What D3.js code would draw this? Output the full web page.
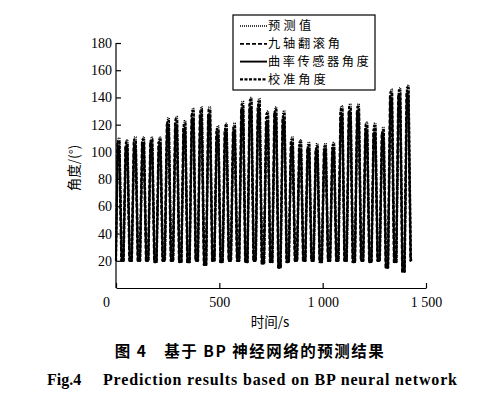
<!DOCTYPE html>
<html>
<head>
<meta charset="utf-8">
<script src="https://cdn.jsdelivr.net/npm/d3@7"></script>
<style>
  body { margin: 0; background: #fff; }
  svg { display: block; }
</style>
</head>
<body>
<svg id="chart" width="491" height="399"></svg>
<script>
// peak time of each cycle (s)
const peakTimes = [12, 51, 91, 131, 171, 211, 251, 291, 331, 371, 411, 451, 491, 531, 571, 611, 651, 691,
  731, 771, 811, 851, 891, 931, 971, 1011, 1051, 1091, 1131, 1171, 1211, 1251, 1291, 1331, 1371, 1411];

// peak angle of each cycle, per series
const predPeaks  = [110, 109, 111, 111, 111, 111, 125, 126, 123, 132, 133, 133, 119, 121, 121, 137, 140, 139,
  130, 133, 130, 111, 109, 107, 106, 106, 107, 134, 135, 135, 122, 121, 118, 146, 147, 149];
const calibPeaks = [108, 107, 109, 109, 109, 109, 123, 124, 121, 130, 131, 131, 117, 119, 119, 135, 138, 137,
  128, 131, 128, 109, 107, 105, 104, 104, 105, 132, 133, 133, 120, 119, 116, 144, 145, 147];
const ninePeaks  = [106, 105, 107, 107, 107, 107, 120, 121, 118, 127, 128, 128, 115, 116, 116, 132, 135, 134,
  125, 128, 125, 107, 105, 103, 102, 102, 103, 129, 130, 130, 117, 116, 114, 141, 142, 144];
const curvPeaks  = [104, 103, 105, 105, 105, 105, 118, 118, 116, 124, 125, 125, 112, 114, 114, 129, 132, 131,
  122, 125, 122, 104, 102, 101, 100, 100, 101, 126, 127, 127, 115, 114, 111, 138, 139, 140];

// low angle after each cycle
const troughs = [20, 20, 20, 20, 19, 20, 20, 19, 19, 20, 17, 20, 19, 20, 20, 19, 20, 18,
  19, 15, 19, 20, 20, 20, 19, 20, 20, 20, 19, 20, 19, 20, 15, 19, 12, 20];

const legendLabels = ['预测值', '九轴翻滚角', '曲率传感器角度', '校准角度'];
const xTicks = [0, 500, 1000, 1500];
const xTickLabels = ['0', '500', '1 000', '1 500'];
const yTicks = [20, 40, 60, 80, 100, 120, 140, 160, 180];

const series = [
  { name: legendLabels[0], peaks: predPeaks, lag: 2.5, dash: '1,1', width: 1.4 },
  { name: legendLabels[1], peaks: ninePeaks, lag: -2.5, dash: '4,2', width: 1.7 },
  { name: legendLabels[2], peaks: curvPeaks, lag: 0, dash: null, width: 1.9 },
  { name: legendLabels[3], peaks: calibPeaks, lag: 1, dash: '3,1.5', width: 2.2 }
];

const svg = d3.select('#chart');
const margin = { left: 116, top: 43, right: 65, bottom: 111 };
const width = 491 - margin.left - margin.right;
const height = 399 - margin.top - margin.bottom;

const x = d3.scaleLinear().domain([0, 1500]).range([0, width]);
const y = d3.scaleLinear().domain([0, 180]).range([height, 0]);

const g = svg.append('g').attr('transform', 'translate(' + margin.left + ',' + margin.top + ')');

function buildPoints(s) {
  let pts = [[0, 20]];
  peakTimes.forEach((tp, i) => {
    const t = tp + s.lag;
    const prevLow = i > 0 ? troughs[i - 1] : 20;
    pts.push([Math.max(0, t - 15), prevLow]);
    pts.push([t - 4, s.peaks[i]]);
    pts.push([t + 4, s.peaks[i]]);
    pts.push([t + 15, troughs[i]]);
  });
  pts.push([1430, 21]);
  return pts;
}

const line = d3.line().x(d => x(d[0])).y(d => y(d[1]));

series.forEach(s => {
  g.append('path')
    .datum(buildPoints(s))
    .attr('fill', 'none')
    .attr('stroke', '#000')
    .attr('stroke-width', s.width)
    .attr('stroke-dasharray', s.dash)
    .attr('stroke-linejoin', 'round')
    .attr('d', line);
});

// axes
const xAxis = g.append('g')
  .attr('transform', 'translate(0,' + height + ')')
  .call(d3.axisBottom(x).tickValues(xTicks).tickSizeInner(-5).tickSizeOuter(0)
    .tickFormat((d, i) => xTickLabels[i]));
xAxis.selectAll('text').attr('y', 9).attr('dy', '0.71em');
xAxis.selectAll('.tick').filter(d => d === 0).select('text').attr('dx', -10);

const yAxis = g.append('g')
  .call(d3.axisLeft(y).tickValues(yTicks).tickSizeInner(-5).tickSizeOuter(0));
yAxis.selectAll('text').attr('x', -4);
yAxis.select('.domain').attr('d', 'M0,' + height + 'V0');

[xAxis, yAxis].forEach(a => {
  a.selectAll('.domain, line').attr('stroke', '#000').attr('stroke-width', 1.2);
  a.selectAll('text').attr('font-family', 'Liberation Serif, Times New Roman, serif')
    .attr('font-size', 14).attr('fill', '#000');
});

g.append('text')
  .attr('x', 270 - margin.left).attr('y', height + 39)
  .attr('text-anchor', 'middle')
  .attr('font-family', 'Noto Sans CJK SC, Liberation Serif, serif')
  .attr('font-size', 13.5)
  .text('时间/s');

g.append('text')
  .attr('transform', 'translate(' + (73 - margin.left) + ',' + (168 - margin.top) + ') rotate(-90)')
  .attr('text-anchor', 'middle')
  .attr('dominant-baseline', 'central')
  .attr('font-family', 'Noto Sans CJK SC, Liberation Serif, serif')
  .attr('font-size', 13.5)
  .text('角度/(°)');

// legend
const legend = svg.append('g').attr('transform', 'translate(233,15)');
legend.append('rect')
  .attr('width', 142).attr('height', 75)
  .attr('fill', '#fff').attr('stroke', '#000').attr('stroke-width', 1.2);
series.forEach((s, i) => {
  const ly = 11 + i * 17.8;
  legend.append('line')
    .attr('x1', 7).attr('x2', 34).attr('y1', ly).attr('y2', ly)
    .attr('stroke', '#000').attr('stroke-width', s.width)
    .attr('stroke-dasharray', s.dash);
  legend.append('text')
    .attr('x', 35).attr('y', ly + 4.3)
    .attr('font-family', 'Noto Sans CJK SC, sans-serif')
    .attr('font-size', 12.2)
    .attr('textLength', s.name.length * 14.4).attr('lengthAdjust', 'spacing')
    .text(s.name);
});

// captions
svg.append('text')
  .attr('x', 250).attr('y', 350)
  .attr('text-anchor', 'middle').attr('dominant-baseline', 'central')
  .attr('font-family', 'Noto Sans CJK SC, sans-serif')
  .attr('font-weight', 'bold').attr('font-size', 15.5)
  .attr('letter-spacing', 1.5)
  .text('图 4\u2003基于 BP 神经网络的预测结果');

svg.append('text')
  .attr('x', 47).attr('y', 379)
  .attr('dominant-baseline', 'central')
  .attr('font-family', 'Liberation Serif, Times New Roman, serif')
  .attr('font-weight', 'bold').attr('font-size', 16)
  .text('Fig.4');

svg.append('text')
  .attr('x', 103).attr('y', 379)
  .attr('dominant-baseline', 'central')
  .attr('font-family', 'Liberation Serif, Times New Roman, serif')
  .attr('font-weight', 'bold').attr('font-size', 16)
  .attr('textLength', 354).attr('lengthAdjust', 'spacing')
  .text('Prediction results based on BP neural network');
</script>
</body>
</html>
